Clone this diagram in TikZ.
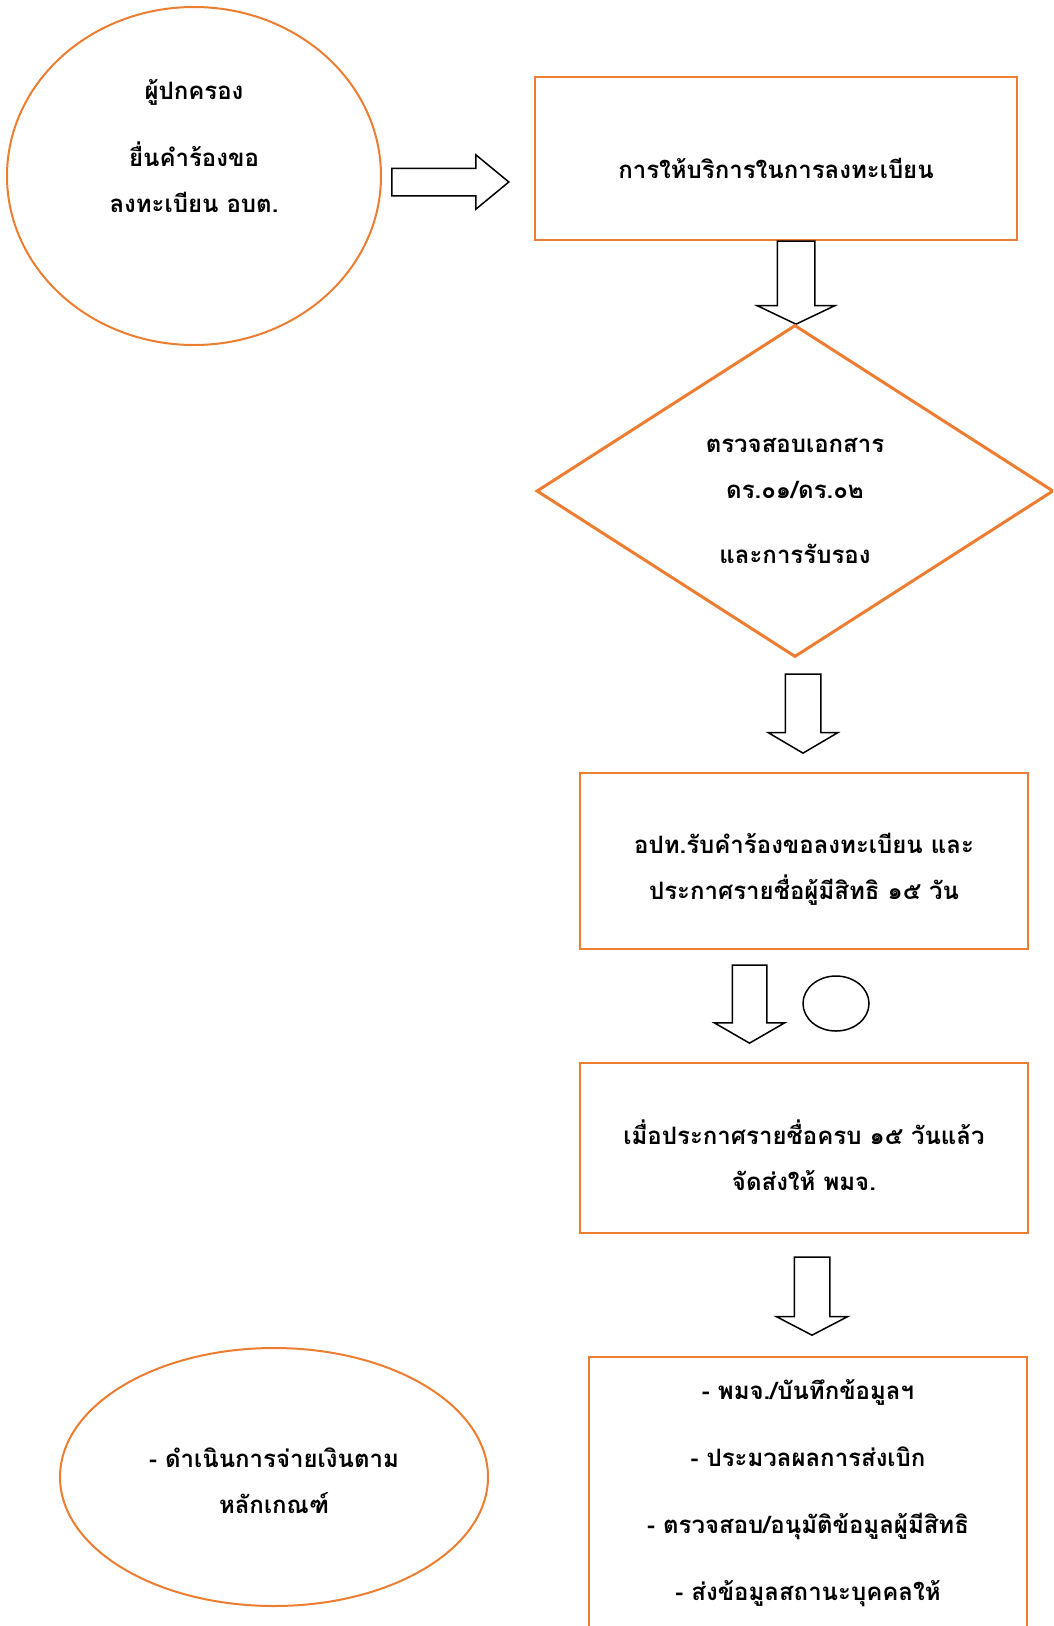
\documentclass[tikz,border=0pt]{standalone}
\usepackage{fontspec}
\setmainfont[Script=Thai]{Loma}
\usepackage{tikz}
\usetikzlibrary{positioning,shapes.geometric,shapes.arrows}
\definecolor{boxorange}{HTML}{ED7D31}
\tikzstyle{txt} = [align=center, font=\bfseries\fontsize{24}{46}\selectfont]
\tikzstyle{box} = [draw=boxorange, line width=2pt, rectangle, inner sep=0pt]
\tikzstyle{oval} = [draw=boxorange, line width=2pt, ellipse, inner sep=0pt]
\tikzstyle{blockarrow} = [draw, line width=1.5pt, single arrow, anchor=tip]
\tikzstyle{blockdown} = [blockarrow, shape border rotate=270, minimum height=78pt, minimum width=69pt, inner sep=16.5pt, single arrow head extend=18pt, single arrow tip angle=120]

\begin{document}
\begin{tikzpicture}[x=1pt,y=-1pt]
\useasboundingbox (0,0) rectangle (1053,1626);
\clip (0,0) rectangle (1053,1626);
  % top row
  \node[oval, minimum width=374pt, minimum height=338pt] (parent) at (194,176) {};
  \node[txt] (parenttext) at ([yshift=29.5pt]parent.center) {ผู้ปกครอง\\[21pt]ยื่นคำร้องขอ\\ลงทะเบียน อบต.};
  \node[blockarrow, minimum height=117pt, minimum width=53pt, inner sep=13pt, single arrow head extend=13.5pt, single arrow tip angle=79] (arrow1) at (510,182) {};
  \node[box, minimum width=482pt, minimum height=163pt] (service) at (776,158.5) {};
  \node[txt] (servicetext) at ([yshift=-9.5pt]service.center) {การให้บริการในการลงทะเบียน};
  \node[blockdown, minimum height=83pt, minimum width=76pt, inner sep=18pt, single arrow head extend=20pt, single arrow tip angle=129] (arrow2) at (796,325) {};
  % check documents
  \node[diamond, draw=boxorange, line width=3pt, aspect=1.55, minimum width=517pt, minimum height=332pt, inner sep=0pt] (check) at (795,491) {};
  \node[txt] (checktext) at ([yshift=-9.5pt]check.center) {ตรวจสอบเอกสาร\\ดร.๐๑/ดร.๐๒\\[19pt]และการรับรอง};
  \node[blockdown, minimum height=79pt, minimum width=68pt, inner sep=17pt, single arrow head extend=17pt, single arrow tip angle=119] (arrow3) at (803,754) {};
  \node[box, minimum width=448pt, minimum height=176pt] (announce) at (804,861) {};
  \node[txt] (announcetext) at ([yshift=-8pt]announce.center) {อปท.รับคำร้องขอลงทะเบียน และ\\ประกาศรายชื่อผู้มีสิทธิ ๑๕ วัน};
  \node[blockdown] (arrow4) at (749.5,1044) {};
  \node[draw, line width=1.5pt, ellipse, minimum width=66pt, minimum height=55pt, inner sep=0pt] (dot) at (836,1003.5) {};
  \node[box, minimum width=448pt, minimum height=170pt] (send) at (804,1148) {};
  \node[txt] (sendtext) at ([yshift=-7pt]send.center) {เมื่อประกาศรายชื่อครบ ๑๕ วันแล้ว\\จัดส่งให้ พมจ.};
  \node[blockdown, minimum width=70pt, inner sep=17pt, single arrow head extend=18pt, single arrow tip angle=125] (arrow5) at (812,1336) {};
  % bottom row
  \node[box, minimum width=438pt, minimum height=272pt] (ministry) at (808,1493) {};
  \node[txt] (ministrytext) at (ministry.center) {- พมจ./บันทึกข้อมูลฯ\\[21pt]- ประมวลผลการส่งเบิก\\[21pt]- ตรวจสอบ/อนุมัติข้อมูลผู้มีสิทธิ\\[21pt]- ส่งข้อมูลสถานะบุคคลให้};
  \node[oval, minimum width=428pt, minimum height=258pt] (payment) at (274,1477) {};
  \node[txt] (paymenttext) at ([yshift=-4pt]payment.center) {- ดำเนินการจ่ายเงินตาม\\หลักเกณฑ์};
\end{tikzpicture}
\end{document}
